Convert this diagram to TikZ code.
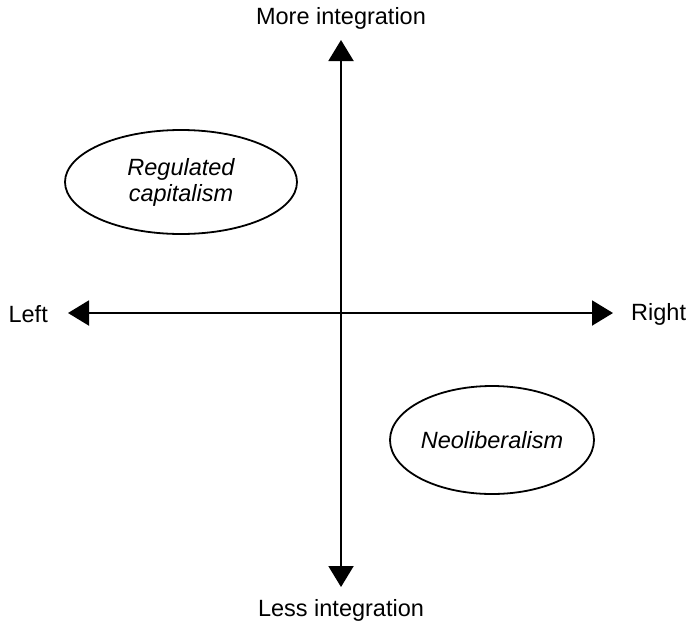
\documentclass[tikz,border=0pt]{standalone}
\usepackage{fontspec}
\setmainfont{Liberation Sans}
\usetikzlibrary{arrows.meta,shapes.geometric}
\begin{document}
\begin{tikzpicture}[x=1pt,y=-1pt,
  axis/.style={line width=2pt, {Triangle[length=21pt,width=25pt]}-{Triangle[length=21pt,width=25pt]}},
  lbl/.style={font=\fontsize{23.5}{27}\selectfont, inner sep=0pt},
  oval/.style={draw, line width=1.8pt, ellipse, inner sep=0pt, align=center,
    font=\fontsize{23.5}{26}\selectfont\itshape}]
\useasboundingbox (0,0) rectangle (687,627);
\node[lbl] (top) at (341,18) {More integration};
\node[lbl] (bot) at (341,610) {Less integration};
\node[lbl, anchor=east] (left) at (48,314) {Left};
\node[lbl, anchor=west] (right) at (631,314) {Right};
\coordinate (tT) at (341,40);
\coordinate (tB) at (341,587);
\coordinate (tL) at (68,313);
\coordinate (tR) at (613,313);
\draw[axis] (tB) -- (tT);
\draw[axis] (tL) -- (tR);
\node[oval, minimum width=232pt, minimum height=104pt] (reg) at (181,182) {Regulated\\capitalism};
\node[oval, minimum width=204pt, minimum height=108pt] (neo) at (492,440) {Neoliberalism};
\end{tikzpicture}
\end{document}
